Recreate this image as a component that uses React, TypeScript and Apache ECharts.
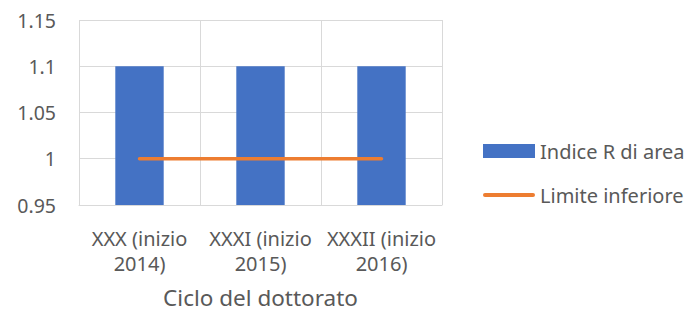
import React, { useEffect, useRef } from "react";
import * as echarts from "echarts";

const categories = ["XXX (inizio 2014)", "XXXI (inizio 2015)", "XXXII (inizio 2016)"];
const indiceR = [1.1, 1.1, 1.1];
const limiteInferiore = [1, 1, 1];
const seriesNames = ["Indice R di area", "Limite inferiore"];
const axisName = "Ciclo del dottorato";

const FONT = "Noto Sans";
const TEXT = "#595959";
const GRID = "#D9D9D9";

export default function App() {
  const ref = useRef<HTMLDivElement>(null);
  useEffect(() => {
    const chart = echarts.init(ref.current!, null, { renderer: "svg" });
    chart.setOption({
      animation: false,
      textStyle: { fontFamily: FONT, color: TEXT },
      grid: { left: 79, top: 20, width: 363, height: 185, containLabel: false },
      legend: {
        orient: "vertical",
        left: 483,
        top: 141,
        padding: 0,
        itemWidth: 52,
        itemHeight: 14,
        itemGap: 24,
        textStyle: { fontFamily: FONT, fontSize: 20, color: TEXT },
        data: [
          { name: seriesNames[0], icon: "rect" },
          {
            name: seriesNames[1],
            icon: "path://M2,0 L50,0 A2,2 0 0 1 50,4 L2,4 A2,2 0 0 1 2,0 Z",
            symbolKeepAspect: true,
          },
        ],
      },
      xAxis: {
        type: "category",
        data: categories,
        name: axisName,
        nameLocation: "middle",
        nameGap: 81,
        nameTextStyle: { fontFamily: FONT, fontSize: 22.5, color: TEXT },
        axisLine: { show: true, lineStyle: { color: GRID, width: 1 } },
        axisTick: { show: false },
        splitLine: { show: true, lineStyle: { color: GRID, width: 1 } },
        axisLabel: {
          fontFamily: FONT,
          fontSize: 20,
          color: TEXT,
          margin: 21,
          lineHeight: 25,
          interval: 0,
          formatter: (v: string) => v.replace(/ (\d{4}\))$/, "\n$1"),
        },
      },
      yAxis: {
        type: "value",
        min: 0.95,
        max: 1.15,
        interval: 0.05,
        axisLine: { show: false },
        axisTick: { show: false },
        splitLine: { show: true, lineStyle: { color: GRID, width: 1 } },
        axisLabel: {
          fontFamily: FONT,
          fontSize: 19.5,
          color: TEXT,
          margin: 23,
          formatter: (v: number) => String(parseFloat(v.toFixed(2))),
        },
      },
      series: [
        {
          name: seriesNames[0],
          type: "bar",
          data: indiceR,
          barWidth: "40%",
          itemStyle: { color: "#4472C4" },
        },
        {
          name: seriesNames[1],
          type: "line",
          data: limiteInferiore,
          symbol: "none",
          lineStyle: { color: "#ED7D31", width: 3.5, cap: "round" },
          itemStyle: { color: "#ED7D31" },
        },
      ],
    });
    return () => chart.dispose();
  }, []);
  return (
    <div
      ref={ref}
      style={{ position: "fixed", left: 0, top: 0, width: 691, height: 315, background: "#fff" }}
    />
  );
}
